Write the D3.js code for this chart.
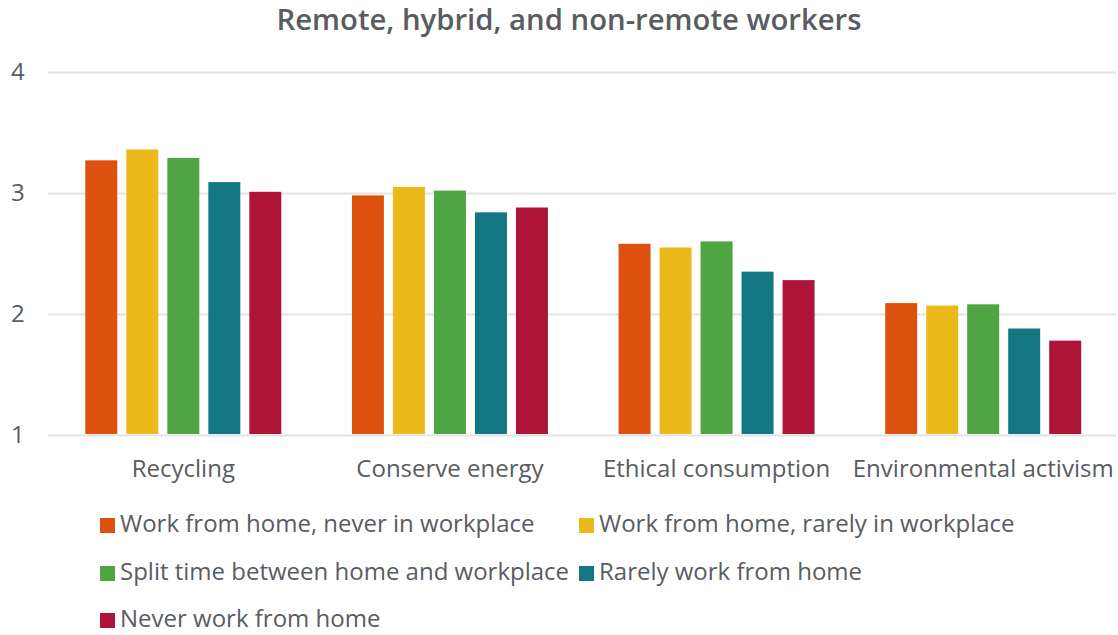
<!DOCTYPE html>
<html><head><meta charset="utf-8">
<script src="https://cdn.jsdelivr.net/npm/d3@7"></script>
<style>
body{margin:0;background:#fff;}
text{font-family:"Open Sans",sans-serif;fill:#595c61;}
</style></head>
<body><svg id="c" width="1118" height="635"></svg>
<script>
const categories = ["Recycling","Conserve energy","Ethical consumption","Environmental activism"];
const seriesNames = ["Work from home, never in workplace","Work from home, rarely in workplace","Split time between home and workplace","Rarely work from home","Never work from home"];
const seriesColors = ["#DE500E","#EBBA1A","#4FA444","#127782","#AE1438"];
const wfhNever  = [3.27, 2.98, 2.58, 2.09];
const wfhRarely = [3.36, 3.05, 2.55, 2.07];
const splitTime = [3.29, 3.02, 2.60, 2.08];
const rarelyWfh = [3.09, 2.84, 2.35, 1.88];
const neverWfh  = [3.01, 2.88, 2.28, 1.78];
const seriesValues = [wfhNever, wfhRarely, splitTime, rarelyWfh, neverWfh];
const yTicks = [1,2,3,4];
const title = "Remote, hybrid, and non-remote workers";

const svg = d3.select("#c");
const x0 = d3.scaleBand().domain(categories).range([50,1116.5]).padding(0);
const bw = x0.bandwidth();
const x1 = d3.scaleBand().domain(seriesNames).range([bw/2-98, bw/2+98]).paddingInner(0.22).paddingOuter(0);
const y = d3.scaleLinear().domain([1,4]).range([435,72]);

svg.append("text").attr("x",569).attr("y",30).attr("text-anchor","middle")
  .style("font-size","29.3px").style("font-weight","600").text(title);

// grid
const yAxis = d3.axisLeft(y).tickValues(yTicks).tickSize(-(1116-48)).tickFormat(d3.format("d"));
const gy = svg.append("g").attr("transform","translate(48,0)").call(yAxis);
gy.select(".domain").remove();
gy.selectAll(".tick line").attr("stroke","#e3e3e3").attr("stroke-width",2);
gy.selectAll(".tick text").attr("x",-37).attr("text-anchor","start").attr("dy","0.32em")
  .style("font-size","24px").style("fill","#595c61");

// bars
categories.forEach((c,ci)=>{
  const g = svg.append("g").attr("transform",`translate(${x0(c)},0)`);
  seriesNames.forEach((s,si)=>{
    const v = seriesValues[si][ci];
    g.append("rect").attr("x",x1(s)).attr("width",x1.bandwidth())
      .attr("y",y(v)).attr("height",y(1)-y(v)-1)
      .attr("fill",seriesColors[si]);
  });
});

// x axis labels
const xAxis = d3.axisBottom(x0).tickSize(0);
const gx = svg.append("g").attr("transform","translate(0,435)").call(xAxis);
gx.select(".domain").remove();
gx.selectAll(".tick text").attr("y",42).attr("dy",0).style("font-size","24px").style("fill","#595c61");

// legend
const legendPos = [[100,532],[579,532],[100,580],[579,580],[100,627]];
seriesNames.forEach((s,i)=>{
  const [lx,ly] = legendPos[i];
  svg.append("rect").attr("x",lx).attr("y",ly-14).attr("width",15).attr("height",15).attr("fill",seriesColors[i]);
  svg.append("text").attr("x",lx+20).attr("y",ly).style("font-size","24px").text(s);
});
</script></body></html>
